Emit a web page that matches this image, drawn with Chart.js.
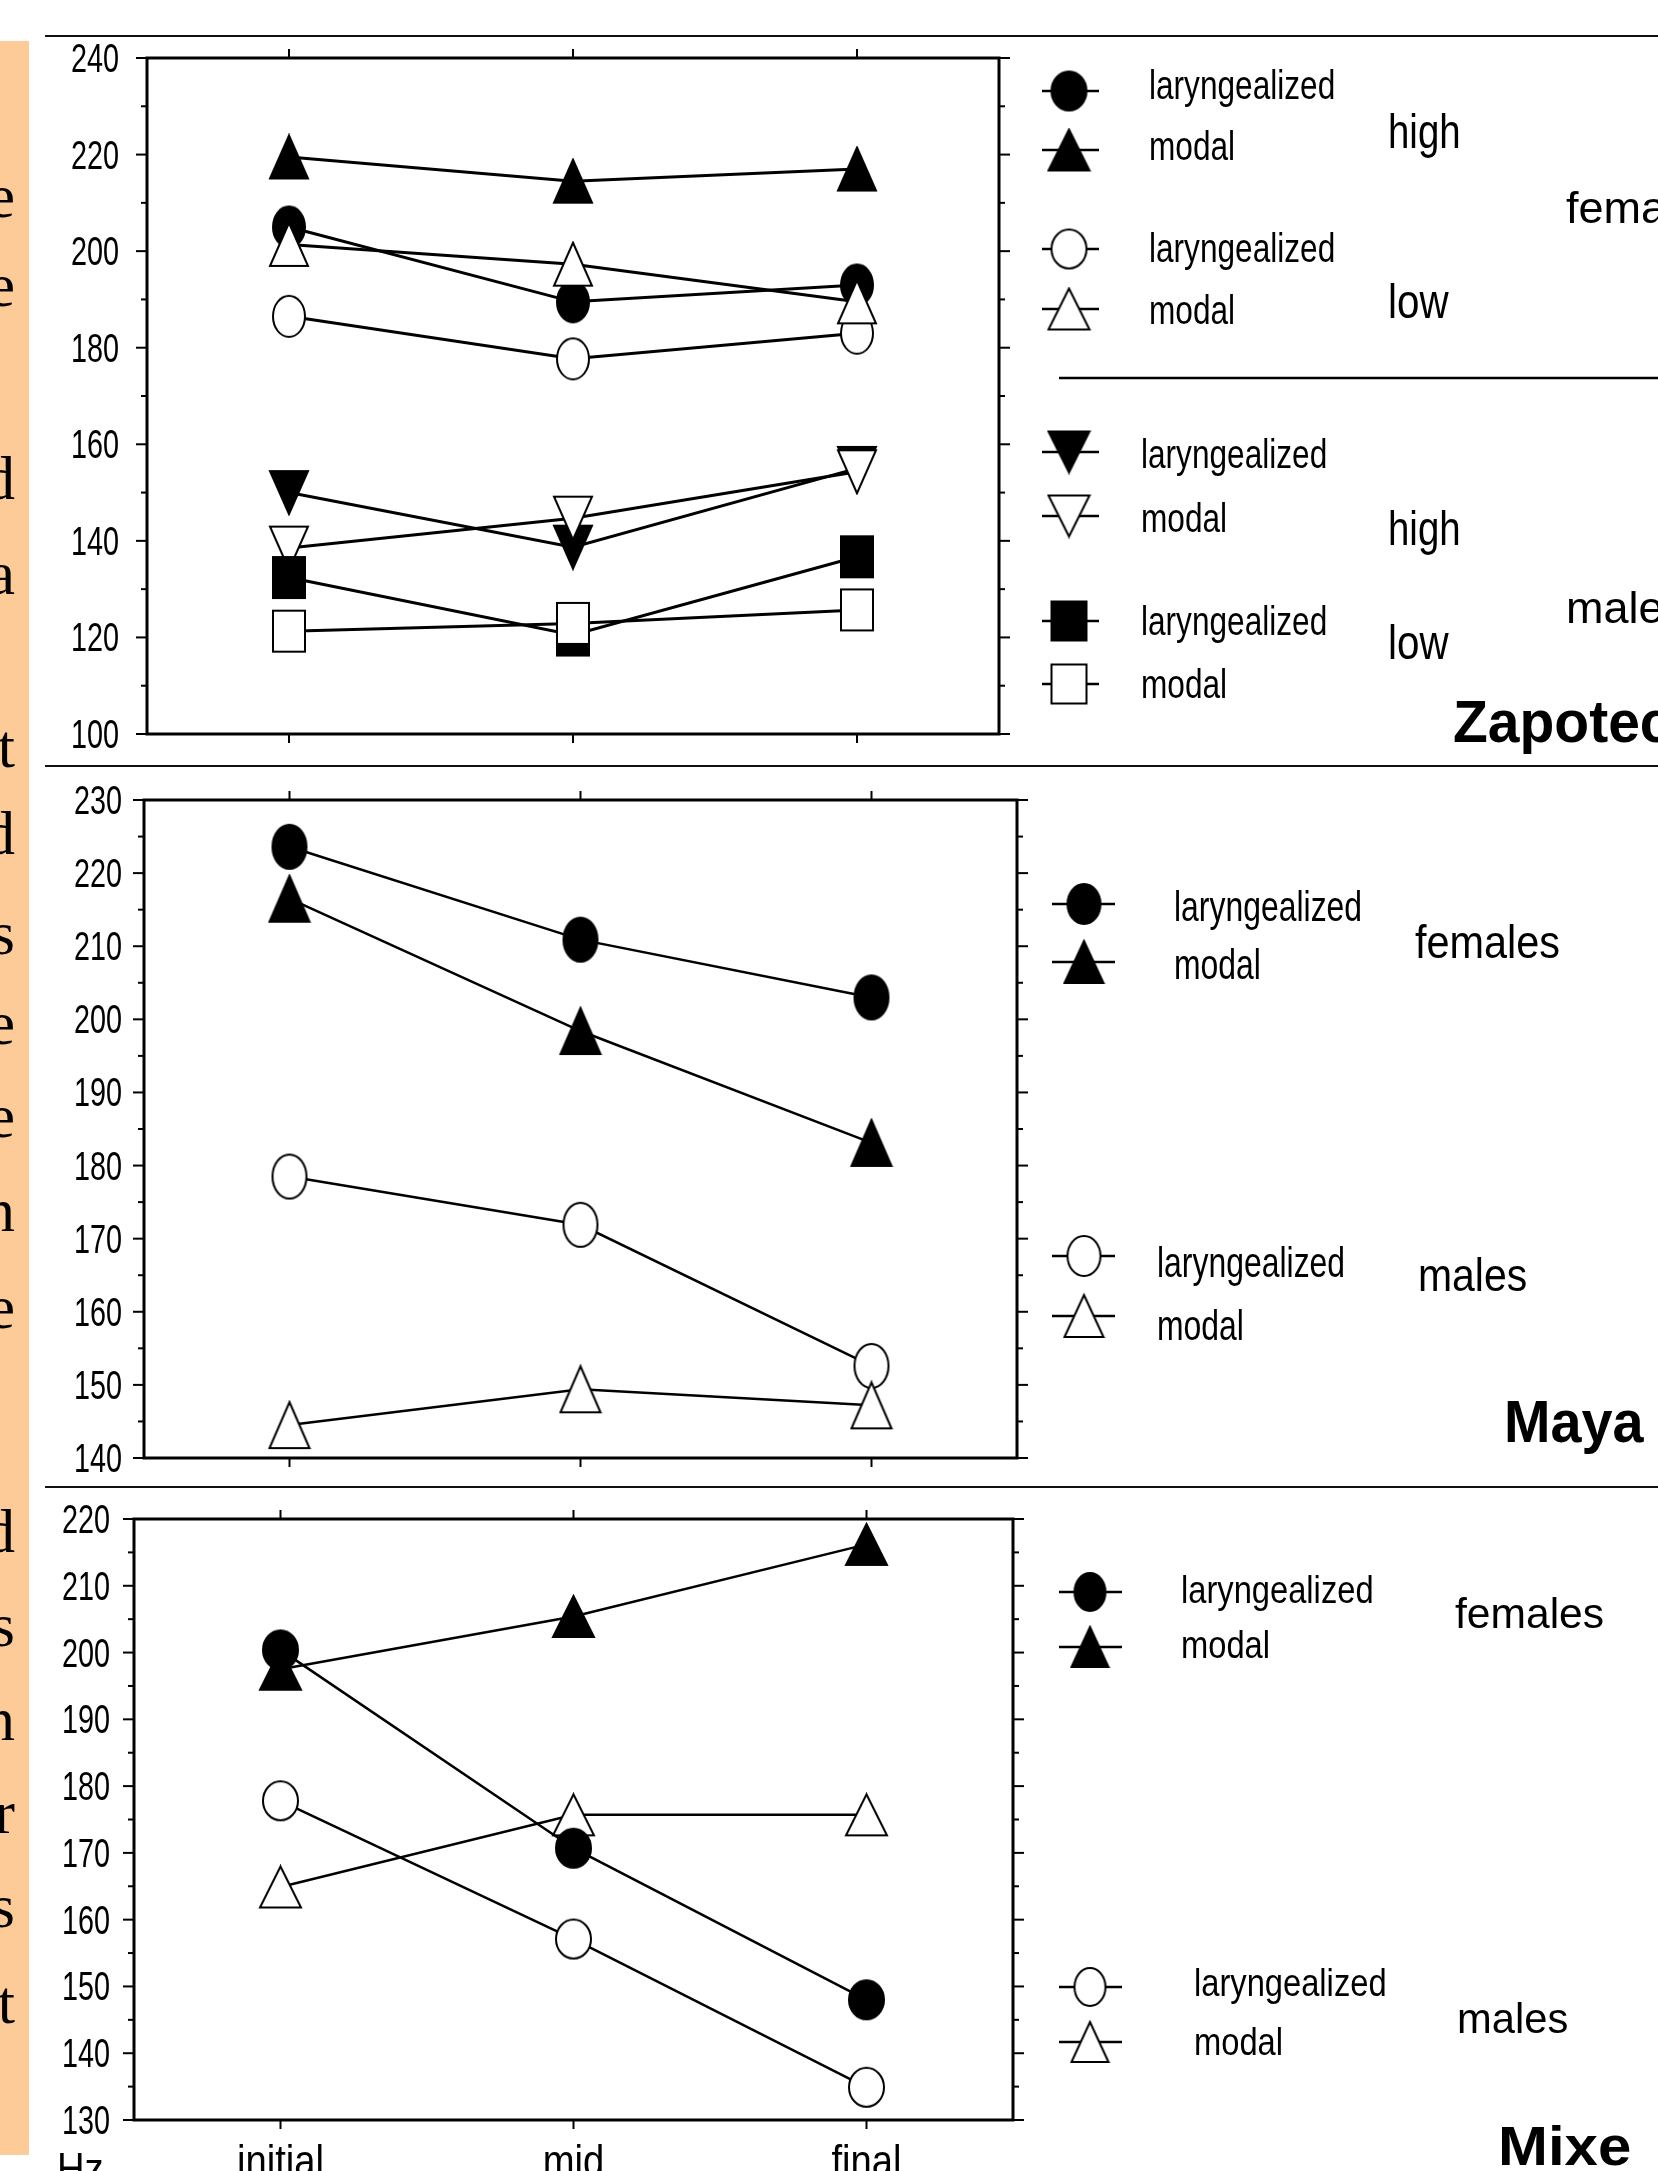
<!DOCTYPE html>
<html>
<head>
<meta charset="utf-8">
<script src="https://cdn.jsdelivr.net/npm/chart.js@4.4.1/dist/chart.umd.min.js"></script>
<style>
  html, body { margin: 0; padding: 0; background: #fff; }
  body { width: 1658px; height: 2171px; position: relative; overflow: hidden; }
  canvas { position: absolute; left: 0; }
  .rule { position: absolute; height: 2px; background: #111; }
  #strip { position: absolute; left: 0; top: 41px; width: 29px; height: 2114px; background: #fccb98; overflow: hidden; }
  #strip span { position: absolute; right: 14px; font: 62px "Liberation Serif", "Times New Roman", serif; line-height: 62px; color: #000; }
</style>
</head>
<body>
<div id="strip"></div>
<div class="rule" style="left:45px;top:35px;width:1613px"></div>
<div class="rule" style="left:45px;top:765px;width:1613px"></div>
<div class="rule" style="left:45px;top:1486px;width:1613px"></div>
<canvas id="zapotec" width="1658" height="728" style="top:37px"></canvas>
<canvas id="maya" width="1658" height="719" style="top:767px"></canvas>
<canvas id="mixe" width="1658" height="702" style="top:1488px"></canvas>
<script>
// syllable positions (x categories)
const positions = ['initial', 'mid', 'final'];
const legendLabels = ['laryngealized', 'modal'];

// Zapotec, Hz
const zapFemHighLaryng = [205, 189.5, 193];
const zapFemHighModal = [219.5, 214.5, 217];
const zapFemLowLaryng = [186.5, 177.7, 183];
const zapFemLowModal = [201.4, 197.3, 189.5];
const zapMaleHighLaryng = [150, 138.7, 155];
const zapMaleHighModal = [138.5, 144.7, 154.3];
const zapMaleLowLaryng = [132.4, 120.5, 136.7];
const zapMaleLowModal = [121.3, 122.9, 125.7];
const zapTicks = [100, 120, 140, 160, 180, 200, 220, 240];

// Maya, Hz
const mayaFemLaryng = [223.6, 210.9, 203];
const mayaFemModal = [216.5, 198.4, 183.1];
const mayaMaleLaryng = [178.5, 171.9, 152.6];
const mayaMaleModal = [144.5, 149.4, 147.2];
const mayaTicks = [140, 150, 160, 170, 180, 190, 200, 210, 220, 230];

// Mixe, Hz
const mixeFemLaryng = [200.4, 170.7, 148];
const mixeFemModal = [197.5, 205.4, 216.2];
const mixeMaleLaryng = [177.8, 157.1, 134.9];
const mixeMaleModal = [164.9, 175.7, 175.7];
const mixeTicks = [130, 140, 150, 160, 170, 180, 190, 200, 210, 220];

// cut-off letters of the text on the left strip
const stripLetters = [['e', 205], ['e', 294], ['d', 487], ['a', 582], ['t', 755], ['d', 842], ['s', 942],
  ['e', 1032], ['e', 1125], ['n', 1219], ['e', 1316], ['d', 1540], ['s', 1634], ['n', 1728],
  ['r', 1821], ['s', 1915], ['t', 2011]];

const strip = document.getElementById('strip');
stripLetters.forEach(([ch, y]) => {
  const s = document.createElement('span');
  s.textContent = ch;
  s.style.top = (y - 41 - 40) + 'px';
  strip.appendChild(s);
});

function marker(shape, filled, w, h) {
  if (shape === 'up' || shape === 'down') w += 4;
  const pad = 2;
  const c = document.createElement('canvas');
  c.width = w + pad * 2;
  c.height = h + pad * 2;
  const g = c.getContext('2d');
  g.translate(pad, pad);
  g.beginPath();
  if (shape === 'circle') g.ellipse(w / 2, h / 2, w / 2 - 1, h / 2 - 1, 0, 0, Math.PI * 2);
  else if (shape === 'up') { g.moveTo(w / 2, 0); g.lineTo(w, h); g.lineTo(0, h); g.closePath(); }
  else if (shape === 'down') { g.moveTo(0, 0); g.lineTo(w, 0); g.lineTo(w / 2, h); g.closePath(); }
  else g.rect(1, 1, w - 2, h - 2);
  g.fillStyle = filled ? '#000' : '#fff';
  g.fill();
  g.lineWidth = 2;
  g.strokeStyle = '#000';
  g.stroke();
  return c;
}

function drawText(ctx, str, x, y, size, sx, align, bold) {
  ctx.save();
  ctx.font = (bold ? 'bold ' : '') + size + 'px "Liberation Sans", Arial, sans-serif';
  ctx.textBaseline = 'alphabetic';
  ctx.textAlign = align || 'left';
  ctx.translate(x, y);
  ctx.scale(sx, 1);
  ctx.fillText(str, 0, 0);
  ctx.restore();
}

function seg(ctx, x1, y1, x2, y2) {
  ctx.beginPath();
  ctx.moveTo(x1, y1);
  ctx.lineTo(x2, y2);
  ctx.stroke();
}

function framePlugin(cfg) {
  return {
    id: 'frame_' + cfg.id,
    afterDraw(chart) {
      const ctx = chart.ctx;
      const xs = chart.scales.x;
      const ys = chart.scales.y;
      const a = chart.chartArea;
      ctx.save();
      ctx.strokeStyle = '#000';
      ctx.fillStyle = '#000';
      ctx.lineWidth = 3;
      ctx.strokeRect(a.left, a.top, a.right - a.left, a.bottom - a.top);
      ctx.lineWidth = 2;
      cfg.ticks.forEach((v, i) => {
        const y = ys.getPixelForValue(v);
        seg(ctx, a.left - 11, y, a.left, y);
        seg(ctx, a.right, y, a.right + 11, y);
        drawText(ctx, String(v), cfg.labelRight, y + 14, 40, 0.72, 'right');
        if (i < cfg.ticks.length - 1) {
          const ym = ys.getPixelForValue((v + cfg.ticks[i + 1]) / 2);
          seg(ctx, a.left - 6, ym, a.left, ym);
          seg(ctx, a.right, ym, a.right + 6, ym);
        }
      });
      positions.forEach((p, i) => {
        const x = xs.getPixelForValue(i);
        seg(ctx, x, a.top - 9, x, a.top);
        seg(ctx, x, a.bottom, x, a.bottom + 9);
        if (cfg.xLabels) drawText(ctx, p, x, a.bottom + 56, 45, 0.85, 'center');
      });

      // page coordinates from here
      ctx.translate(0, -cfg.top);
      if (cfg.xLabels) drawText(ctx, 'Hz', 57, 2184, 45, 0.85, 'left');
      const lg = cfg.legend;
      ctx.lineWidth = 2.5;
      lg.items.forEach(it => {
        seg(ctx, lg.x1, it.y, lg.x2, it.y);
        const m = marker(it.shape, it.filled, lg.w, lg.h);
        ctx.drawImage(m, lg.x - m.width / 2, it.y - m.height / 2);
        drawText(ctx, it.label, it.lx, it.base, lg.size, lg.sx, 'left');
      });
      cfg.notes.forEach(n => drawText(ctx, n.text, n.x, n.y, n.size, n.sx, 'left'));
      if (cfg.divider) {
        ctx.lineWidth = 2.5;
        seg(ctx, cfg.divider.x1, cfg.divider.y, 1658, cfg.divider.y);
      }
      drawText(ctx, cfg.title.text, cfg.title.x, cfg.title.y, cfg.title.size, cfg.title.sx, 'left', true);
      ctx.restore();
    }
  };
}

function makePanel(cfg) {
  const datasets = cfg.series.map(s => ({
    data: s.data,
    borderColor: '#000',
    borderWidth: cfg.lineWidth,
    pointStyle: marker(s.shape, s.filled, cfg.mw, cfg.mh),
    pointRadius: 6,
    tension: 0,
    fill: false,
    clip: false
  }));
  return new Chart(document.getElementById(cfg.id), {
    type: 'line',
    data: { labels: positions, datasets: datasets },
    options: {
      responsive: false,
      animation: false,
      devicePixelRatio: 1,
      layout: {
        padding: {
          left: cfg.frame.l,
          right: 1658 - cfg.frame.r,
          top: cfg.frame.t - cfg.top,
          bottom: cfg.top + cfg.height - cfg.frame.b
        }
      },
      plugins: { legend: { display: false }, tooltip: { enabled: false } },
      scales: {
        x: { type: 'category', offset: true, display: false },
        y: { type: 'linear', min: cfg.ticks[0], max: cfg.ticks[cfg.ticks.length - 1], display: false }
      }
    },
    plugins: [framePlugin(cfg)]
  });
}

// Zapotec
makePanel({
  id: 'zapotec', top: 37, height: 728,
  frame: { l: 147, r: 999, t: 58, b: 734 },
  ticks: zapTicks, labelRight: 119, lineWidth: 3, mw: 34, mh: 43,
  series: [
    { data: zapMaleLowModal, shape: 'square', filled: false },
    { data: zapMaleLowLaryng, shape: 'square', filled: true },
    { data: zapMaleHighModal, shape: 'down', filled: false },
    { data: zapMaleHighLaryng, shape: 'down', filled: true },
    { data: zapFemHighModal, shape: 'up', filled: true },
    { data: zapFemLowModal, shape: 'up', filled: false },
    { data: zapFemLowLaryng, shape: 'circle', filled: false },
    { data: zapFemHighLaryng, shape: 'circle', filled: true }
  ],
  legend: {
    x: 1069, x1: 1042, x2: 1099, w: 37, h: 41, size: 40, sx: 0.79,
    items: [
      { shape: 'circle', filled: true, y: 91, label: legendLabels[0], lx: 1149, base: 99 },
      { shape: 'up', filled: true, y: 150, label: legendLabels[1], lx: 1149, base: 160 },
      { shape: 'circle', filled: false, y: 249, label: legendLabels[0], lx: 1149, base: 262 },
      { shape: 'up', filled: false, y: 309, label: legendLabels[1], lx: 1149, base: 324 },
      { shape: 'down', filled: true, y: 452, label: legendLabels[0], lx: 1141, base: 468 },
      { shape: 'down', filled: false, y: 516, label: legendLabels[1], lx: 1141, base: 532 },
      { shape: 'square', filled: true, y: 621, label: legendLabels[0], lx: 1141, base: 635 },
      { shape: 'square', filled: false, y: 684, label: legendLabels[1], lx: 1141, base: 698 }
    ]
  },
  notes: [
    { text: 'high', x: 1388, y: 148, size: 48, sx: 0.8 },
    { text: 'low', x: 1388, y: 318, size: 48, sx: 0.84 },
    { text: 'high', x: 1388, y: 545, size: 48, sx: 0.8 },
    { text: 'low', x: 1388, y: 659, size: 48, sx: 0.84 },
    { text: 'females', x: 1566, y: 223, size: 45, sx: 1.0 },
    { text: 'males', x: 1566, y: 623, size: 45, sx: 1.0 }
  ],
  divider: { x1: 1059, y: 378 },
  title: { text: 'Zapotec', x: 1453, y: 742, size: 60, sx: 0.95 }
});

// Maya
makePanel({
  id: 'maya', top: 767, height: 719,
  frame: { l: 144, r: 1017, t: 800, b: 1458 },
  ticks: mayaTicks, labelRight: 122, lineWidth: 2.5, mw: 36, mh: 46,
  series: [
    { data: mayaMaleModal, shape: 'up', filled: false },
    { data: mayaMaleLaryng, shape: 'circle', filled: false },
    { data: mayaFemLaryng, shape: 'circle', filled: true },
    { data: mayaFemModal, shape: 'up', filled: true }
  ],
  legend: {
    x: 1084, x1: 1052, x2: 1115, w: 35, h: 42, size: 42, sx: 0.76,
    items: [
      { shape: 'circle', filled: true, y: 904, label: legendLabels[0], lx: 1174, base: 921 },
      { shape: 'up', filled: true, y: 962, label: legendLabels[1], lx: 1174, base: 979 },
      { shape: 'circle', filled: false, y: 1256, label: legendLabels[0], lx: 1157, base: 1277 },
      { shape: 'up', filled: false, y: 1316, label: legendLabels[1], lx: 1157, base: 1340 }
    ]
  },
  notes: [
    { text: 'females', x: 1415, y: 958, size: 46, sx: 0.9 },
    { text: 'males', x: 1418, y: 1291, size: 46, sx: 0.89 }
  ],
  title: { text: 'Maya', x: 1504, y: 1442, size: 60, sx: 0.93 }
});

// Mixe
makePanel({
  id: 'mixe', top: 1488, height: 702,
  frame: { l: 134, r: 1013, t: 1519, b: 2120 },
  ticks: mixeTicks, labelRight: 110, lineWidth: 2.5, mw: 37, mh: 41, xLabels: true,
  series: [
    { data: mixeFemLaryng, shape: 'circle', filled: true },
    { data: mixeFemModal, shape: 'up', filled: true },
    { data: mixeMaleModal, shape: 'up', filled: false },
    { data: mixeMaleLaryng, shape: 'circle', filled: false }
  ],
  legend: {
    x: 1090, x1: 1059, x2: 1122, w: 33, h: 40, size: 38, sx: 0.86,
    items: [
      { shape: 'circle', filled: true, y: 1592, label: legendLabels[0], lx: 1181, base: 1603 },
      { shape: 'up', filled: true, y: 1647, label: legendLabels[1], lx: 1181, base: 1658 },
      { shape: 'circle', filled: false, y: 1987, label: legendLabels[0], lx: 1194, base: 1996 },
      { shape: 'up', filled: false, y: 2042, label: legendLabels[1], lx: 1194, base: 2055 }
    ]
  },
  notes: [
    { text: 'females', x: 1455, y: 1628, size: 43, sx: 0.99 },
    { text: 'males', x: 1457, y: 2033, size: 43, sx: 0.97 }
  ],
  title: { text: 'Mixe', x: 1498, y: 2165, size: 56, sx: 1.07 }
});
</script>
</body>
</html>
